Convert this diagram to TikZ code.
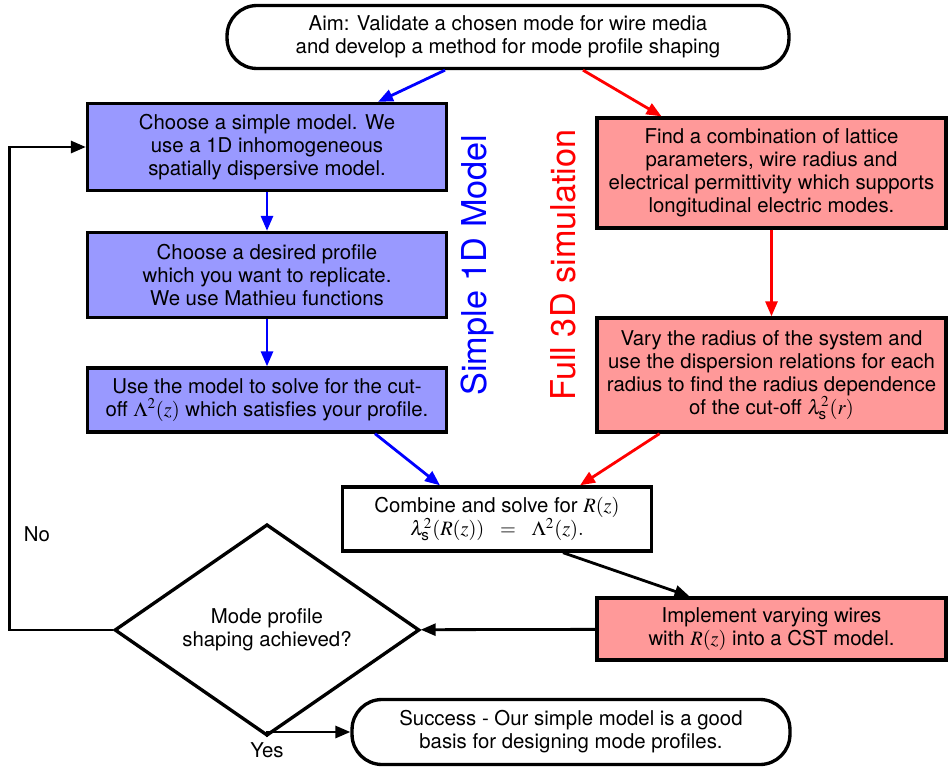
\documentclass[tikz,border=0pt]{standalone}
\usepackage{amsmath}
\usepackage{mathptmx}
\usepackage[no-math]{fontspec}
\setmainfont{TeX Gyre Heros}
\usepackage{xcolor}
\usepackage{tikz}
\usetikzlibrary{positioning,arrows.meta,shapes.geometric,calc}
\definecolor{modelblue}{RGB}{153,153,255}
\definecolor{simred}{RGB}{255,153,153}
\tikzset{
  box/.style={draw, line width=1.9pt, minimum width=7.18cm, align=center,
              font=\fontsize{11.6}{13}\selectfont, inner sep=2pt},
  bluebox/.style={box, fill=modelblue},
  redbox/.style={box, fill=simred, minimum width=6.98cm},
  endbox/.style={box, rounded corners=0.6cm, minimum height=1.26cm},
  decision/.style={diamond, draw, line width=1.9pt, minimum width=6.1cm,
                   minimum height=2cm, inner sep=0pt, align=center,
                   font=\fontsize{11.6}{13}\selectfont},
  arrow/.style={-{Triangle[length=3mm,width=2.4mm]}, line width=1.6pt},
  sidelabel/.style={rotate=90, font=\fontsize{19.5}{22}\selectfont},
}

\begin{document}
\begin{tikzpicture}[x=0.02cm, y=-0.02cm]
  \useasboundingbox (0,0) rectangle (948,768);

  % Aim
  \node[endbox, minimum width=11.24cm] (aim) at (508,37)
    {Aim: Validate a chosen mode for wire media\\and develop a method for mode profile shaping};

  % Simple model branch
  \node[bluebox, minimum height=1.74cm] (B1) at (267,147)
    {Choose a simple model. We\\use a 1D inhomogeneous\\spatially dispersive model.};
  \node[bluebox, minimum height=1.7cm] (B2) at (267,275)
    {Choose a desired profile\\which you want to replicate.\\We use Mathieu functions};
  \node[bluebox, minimum height=1.28cm] (B3) at (267,400)
    {Use the model to solve for the cut-\\off $\Lambda^2(z)$ which satisfies your profile.};
  \node[sidelabel, text=blue] (L1) at (477,265) {Simple 1D Model};

  % Full simulation branch
  \node[redbox, minimum height=2.2cm] (R1) at (771.5,173)
    {Find a combination of lattice\\parameters, wire radius and\\electrical permittivity which supports\\longitudinal electric modes.};
  \node[redbox, minimum height=2.28cm] (R2) at (771.5,375)
    {Vary the radius of the system and\\use the dispersion relations for each\\radius to find the radius dependence\\of the cut-off $\lambda_{\text{s}}^2(r)$};
  \node[sidelabel, text=red] (L2) at (563,265) {Full 3D simulation};

  % Combine and check
  \node[box, fill=white, minimum width=6.18cm, minimum height=1.28cm] (C) at (497,519)
    {Combine and solve for $R(z)$\\$\lambda_{\text{s}}^2(R(z))\ \ =\ \ \Lambda^2(z).$};
  \node[redbox, minimum height=1.24cm] (I) at (771.5,629)
    {Implement varying wires\\with $R(z)$ into a CST model.};
  \node[decision] (D) at (267,630) {Mode profile\\shaping achieved?};
  \node[endbox, minimum width=8.76cm, minimum height=1.3cm] (S) at (571,732)
    {Success - Our simple model is a good\\basis for designing mode profiles.};

  \node[font=\fontsize{11.6}{13}\selectfont] (no) at (37,534) {No};
  \node[font=\fontsize{11.6}{13}\selectfont] (yes) at (267,750) {Yes};

  \draw[arrow, blue] ($(aim.south)+(-63,0)$) -- ($(B1.north)+(111,0)$);
  \draw[arrow, red] ($(aim.south)+(75,0)$) -- ($(R1.north)+(-110,0)$);
  \draw[arrow, blue] (B1) -- (B2);
  \draw[arrow, blue] (B2) -- (B3);
  \draw[arrow, red] (R1) -- (R2);
  \draw[arrow, blue] ($(B3.south)+(108,0)$) -- ($(C.north)+(-57,0)$);
  \draw[arrow, red] ($(R2.south)+(-112,0)$) -- ($(C.north)+(83,0)$);
  \draw[arrow] ($(C.south)+(66,0)$) -- ($(I.north)+(-82,0)$);
  \draw[arrow] (I) -- (D);
  \draw[arrow] (D.west) -- ++(-103,0) |- (B1.west);
  \draw[arrow] (D.south) |- (S.west);
\end{tikzpicture}
\end{document}
